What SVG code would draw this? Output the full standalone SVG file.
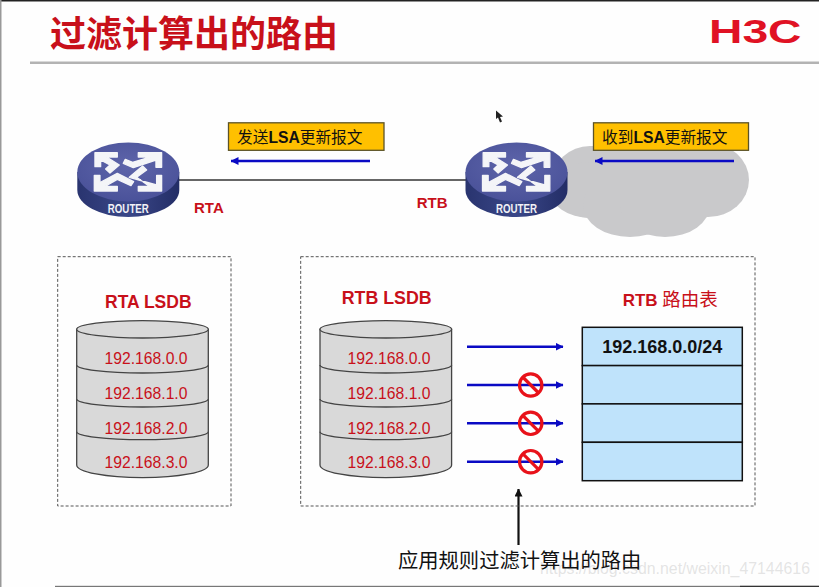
<svg xmlns="http://www.w3.org/2000/svg" width="819" height="587" viewBox="0 0 819 587">
<style>
text{font-family:"Liberation Sans","Noto Sans CJK SC",sans-serif}
.red{fill:#c8101a}
.b{font-weight:700}
.ip{font-size:15.7px;fill:#c8101a;text-anchor:middle}
.cjk{font-family:"Noto Sans CJK SC","Liberation Sans",sans-serif}
.dash{fill:none;stroke:#555;stroke-width:1;stroke-dasharray:3 2}
.cyl{fill:#d9d9d9;stroke:#444;stroke-width:1.3}
.arc{fill:none;stroke:#444;stroke-width:1.3}
.cell{fill:#bfe3fb;stroke:#111;stroke-width:1.5}
.blue{stroke:#0a0ac4;stroke-width:2.4;fill:none}
.ban{fill:none;stroke:#e8121a;stroke-width:3.2}
.lbl{fill:#ffc000;stroke:#5c5327;stroke-width:1.3}
.lt{font-size:15.7px;fill:#111}
</style>
<defs>
<marker id="bh" viewBox="0 0 8 8" refX="7.5" refY="4" markerWidth="8" markerHeight="8" markerUnits="userSpaceOnUse" orient="auto"><path d="M0 0L8 4L0 8Z" fill="#0a0ac4"/></marker>
<marker id="kh" viewBox="0 0 8 8" refX="7.5" refY="4" markerWidth="8" markerHeight="8" markerUnits="userSpaceOnUse" orient="auto"><path d="M0 0L8 4L0 8Z" fill="#111"/></marker>
<linearGradient id="side" x1="0" x2="1" y1="0" y2="0"><stop offset="0" stop-color="#29346f"/><stop offset=".5" stop-color="#3a4788"/><stop offset="1" stop-color="#232d66"/></linearGradient>
<radialGradient id="top" cx=".5" cy=".4" r=".7"><stop offset="0" stop-color="#5e65aa"/><stop offset="1" stop-color="#474f97"/></radialGradient>
<g id="router">
<path d="M-51 0V18A51 27 0 0 0 51 18V0Z" fill="url(#side)"/>
<ellipse cx="0" cy="0" rx="51" ry="29.500" fill="url(#top)"/>
<g fill="#f4f5f8" stroke="#f4f5f8" stroke-width="4" stroke-linejoin="round" transform="translate(-68.330 -42) scale(.3333)">
<path d="M105 68H172V81H140L178 105L150 129L137 117L150 105L122 90V110H105Z"/>
<path d="M305 68H235V81H272L218 97L196 88L190 100L220 113L288 90V112H305Z"/>
<path d="M103 183H172V169H135L172 148L213 167L221 155L172 130L120 158V136H103Z"/>
<path d="M305 183H235V169H268L230 142L260 120L248 108L208 142L290 165V136H305Z"/>
</g>
<text x="0" y="41" text-anchor="middle" font-size="12" font-weight="700" fill="#f1f2f6" textLength="41" lengthAdjust="spacingAndGlyphs">ROUTER</text>
</g>
</defs>
<rect width="819" height="587" fill="#fefefe"/>
<rect x="0" y="0" width="819" height="1.500" fill="#222"/>
<rect x="0" y="0" width="1.500" height="587" fill="#999"/>
<rect x="55" y="585.800" width="764" height="1.200" fill="#777"/>
<rect x="740" y="585.800" width="79" height="1.200" fill="#333"/>
<rect x="30" y="61.500" width="789" height="2.500" fill="#b3b3b3"/>
<text id="title" class="cjk b" x="50" y="47" font-size="36" fill="#c8101a">过滤计算出的路由</text>
<text id="logo" x="709" y="42.700" font-size="32.700" font-weight="700" fill="#e01224" textLength="92.500" lengthAdjust="spacingAndGlyphs">H3C</text>
<polygon id="cursor" points="496,110.500 496,119 498,117.500 500,122.500 502,121.500 500,117 503,116.500" fill="#222"/>
<g id="cloud" fill="#c9c9cb">
<ellipse cx="590" cy="182" rx="38" ry="36"/>
<ellipse cx="590" cy="190" rx="40" ry="28"/>
<ellipse cx="708" cy="180" rx="41" ry="37"/>
<ellipse cx="630" cy="205" rx="47" ry="32"/>
<ellipse cx="665" cy="205" rx="45" ry="32"/>
<rect x="590" y="146" width="120" height="60"/>
</g>
<g id="connectors">
<path d="M179 180H466" stroke="#333" stroke-width="1.500" fill="none"/>
<path class="blue" d="M370 161H231" marker-end="url(#bh)"/>
<path class="blue" d="M734 161H595" marker-end="url(#bh)"/>
<path class="blue" d="M467 346.700H563" marker-end="url(#bh)"/>
<path class="blue" d="M467 385H563" marker-end="url(#bh)"/>
<path class="blue" d="M467 423.300H563" marker-end="url(#bh)"/>
<path class="blue" d="M467 461.700H563" marker-end="url(#bh)"/>
<path d="M518.500 545V489" stroke="#111" stroke-width="2.200" fill="none" marker-end="url(#kh)"/>
</g>
<g id="RTA"><use href="#router" x="128.300" y="172"/><text class="red b" x="194" y="212.700" font-size="15">RTA</text></g>
<g id="RTB"><use href="#router" x="516.500" y="172"/><text class="red b" x="416.700" y="208.300" font-size="15">RTB</text></g>
<g id="msg-send"><rect class="lbl" x="228.500" y="122.800" width="155.500" height="27.500"/><text class="lt" x="237" y="142.700"><tspan class="cjk">发送</tspan><tspan class="b">LSA</tspan><tspan class="cjk">更新报文</tspan></text></g>
<g id="msg-recv"><rect class="lbl" x="593.500" y="122.800" width="155" height="27.500"/><text class="lt" x="602" y="142.700"><tspan class="cjk">收到</tspan><tspan class="b">LSA</tspan><tspan class="cjk">更新报文</tspan></text></g>
<g id="rta-panel">
<rect class="dash" x="57.700" y="256.700" width="173.300" height="249.300"/>
<text class="red b" x="105" y="307.700" font-size="17.500">RTA LSDB</text>
<g id="rta-db">
<path class="cyl" d="M76.700 329.300V465A65.800 12.700 0 0 0 208.300 465V329.300Z"/>
<ellipse class="cyl" cx="142.500" cy="329.300" rx="65.800" ry="8.700"/>
<path class="arc" d="M76.700 365A65.800 8 0 0 0 208.300 365M76.700 399A65.800 8 0 0 0 208.300 399M76.700 431.700A65.800 8 0 0 0 208.300 431.700"/>
<text class="ip" x="146" y="364">192.168.0.0</text><text class="ip" x="146" y="398.500">192.168.1.0</text><text class="ip" x="146" y="433.500">192.168.2.0</text><text class="ip" x="146" y="468">192.168.3.0</text>
</g></g>
<g id="rtb-panel">
<rect class="dash" x="300.700" y="256.700" width="454.300" height="249.300"/>
<text class="red b" x="341.700" y="304.300" font-size="17.800">RTB LSDB</text>
<g id="rtb-db">
<path class="cyl" d="M320 329.300V465A65.800 12.700 0 0 0 451.600 465V329.300Z"/>
<ellipse class="cyl" cx="385.800" cy="329.300" rx="65.800" ry="8.700"/>
<path class="arc" d="M320 365A65.800 8 0 0 0 451.600 365M320 399A65.800 8 0 0 0 451.600 399M320 431.700A65.800 8 0 0 0 451.600 431.700"/>
<text class="ip" x="389" y="364">192.168.0.0</text><text class="ip" x="389" y="398.500">192.168.1.0</text><text class="ip" x="389" y="433.500">192.168.2.0</text><text class="ip" x="389" y="468">192.168.3.0</text>
</g>
<text class="red" x="622.700" y="306" font-size="17"><tspan class="b">RTB </tspan><tspan class="cjk" font-size="18.500">路由表</tspan></text>
<g id="rtb-table">
<rect class="cell" x="582.300" y="327.300" width="160" height="38.300"/>
<rect class="cell" x="582.300" y="365.600" width="160" height="38.300"/>
<rect class="cell" x="582.300" y="403.900" width="160" height="38.400"/>
<rect class="cell" x="582.300" y="442.300" width="160" height="38.400"/>
<text class="b" x="662.300" y="352.700" font-size="18" text-anchor="middle" fill="#111">192.168.0.0/24</text>
</g></g>
<g id="bans">
<g id="ban1" transform="translate(530.700 385)"><circle class="ban" r="11.200"/><path class="ban" d="M-8-8L8 8"/></g>
<g id="ban2" transform="translate(530.700 423.300)"><circle class="ban" r="11.200"/><path class="ban" d="M-8-8L8 8"/></g>
<g id="ban3" transform="translate(530.700 461.700)"><circle class="ban" r="11.200"/><path class="ban" d="M-8-8L8 8"/></g>
</g>
<text id="watermark" x="540" y="574" font-size="17" fill="#c4c4c4" fill-opacity=".45" textLength="270" lengthAdjust="spacingAndGlyphs">https://blog.csdn.net/weixin_47144616</text>
<text id="caption" class="cjk" x="398" y="567.500" font-size="20.300" fill="#111">应用规则过滤计算出的路由</text>
</svg>
